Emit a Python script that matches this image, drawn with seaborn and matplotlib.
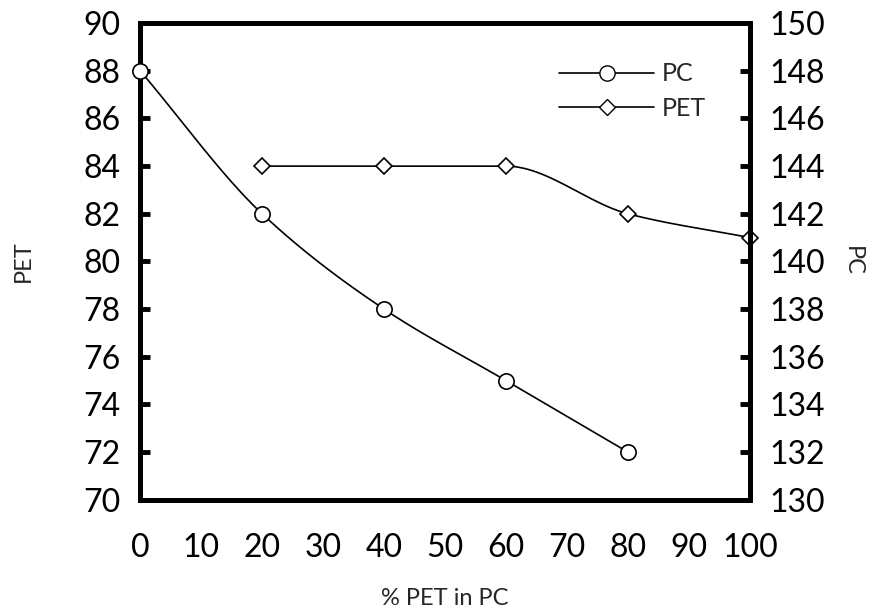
import numpy as np
import pandas as pd
import matplotlib
matplotlib.use("Agg")
import matplotlib.pyplot as plt
import seaborn as sns
from matplotlib.lines import Line2D

# ---- data ----
pc_x = [0, 20, 40, 60, 80]
pc_y = [148, 142, 138, 135, 132]          # right axis (PC)
pet_x = [20, 40, 60, 80, 100]
pet_y = [84, 84, 84, 82, 81]              # left axis (PET)
x_ticks = [0, 10, 20, 30, 40, 50, 60, 70, 80, 90, 100]
left_ticks = [70, 72, 74, 76, 78, 80, 82, 84, 86, 88, 90]
right_ticks = [130, 132, 134, 136, 138, 140, 142, 144, 146, 148, 150]

sns.set_theme(style="white")
plt.rcParams['font.family'] = ['Lato', 'DejaVu Sans']


def smooth(xs, ys, n=40):
    """Monotone cubic (Fritsch-Carlson) curve through the points, display only."""
    x = np.asarray(xs, float)
    y = np.asarray(ys, float)
    h = np.diff(x)
    d = np.diff(y) / h
    m = np.zeros_like(y)
    m[0], m[-1] = d[0], d[-1]
    for i in range(1, len(y) - 1):
        if d[i - 1] * d[i] <= 0:
            m[i] = 0.0
        else:
            w1 = 2 * h[i] + h[i - 1]
            w2 = h[i] + 2 * h[i - 1]
            m[i] = (w1 + w2) / (w1 / d[i - 1] + w2 / d[i])
    ox, oy = [], []
    for i in range(len(x) - 1):
        t = np.linspace(0, 1, n, endpoint=(i == len(x) - 2))
        h00 = 2 * t ** 3 - 3 * t ** 2 + 1
        h10 = t ** 3 - 2 * t ** 2 + t
        h01 = -2 * t ** 3 + 3 * t ** 2
        h11 = t ** 3 - t ** 2
        ox.extend(x[i] + t * h[i])
        oy.extend(h00 * y[i] + h10 * h[i] * m[i] + h01 * y[i + 1] + h11 * h[i] * m[i + 1])
    return np.array(ox), np.array(oy)


fig = plt.figure(figsize=(8.76, 6.08), dpi=100)
ax = fig.add_axes([0.160, 0.178, 0.696, 0.784])
ax2 = ax.twinx()

# PET on left axis
sx, sy = smooth(pet_x, pet_y)
sns.lineplot(x=sx, y=sy, ax=ax, color="black", lw=1.2, sort=False)
ax.plot(pet_x, pet_y, ls="none", marker="D", ms=8, mfc="white", mec="black",
        mew=1.2, zorder=5, clip_on=False)

# PC on right axis
sx, sy = smooth(pc_x, pc_y)
sns.lineplot(x=sx, y=sy, ax=ax2, color="black", lw=1.2, sort=False)
ax2.plot(pc_x, pc_y, ls="none", marker="o", ms=11, mfc="white", mec="black",
         mew=1.2, zorder=5, clip_on=False)

ax.set_xlim(0, 100)
ax.set_ylim(70, 90)
ax2.set_ylim(130, 150)
ax.set_xticks(x_ticks)
ax.set_yticks(left_ticks)
ax2.set_yticks(right_ticks)

for a in (ax, ax2):
    for s in a.spines.values():
        s.set_linewidth(3.6)
        s.set_color("black")
    a.tick_params(direction="in", length=7, width=3.5, labelsize=23,
                  colors="black", pad=14)
ax.tick_params(axis="x", pad=24)

ax.set_xlabel("% PET in PC", fontsize=17, labelpad=18)
ax.set_ylabel("PET", fontsize=17, labelpad=36)
ax2.set_ylabel("PC", fontsize=17, labelpad=20, rotation=270, va="center")

handles = [
    Line2D([], [], color="black", lw=1.2, marker="o", ms=11, mfc="white", mec="black"),
    Line2D([], [], color="black", lw=1.2, marker="D", ms=8, mfc="white", mec="black"),
]
ax.legend(handles, ["PC", "PET"], loc="upper right", bbox_to_anchor=(0.965, 0.965),
          frameon=False, fontsize=18, handlelength=3.8, handletextpad=0.3,
          labelspacing=0.45)

fig.savefig("out.png", dpi=100)
